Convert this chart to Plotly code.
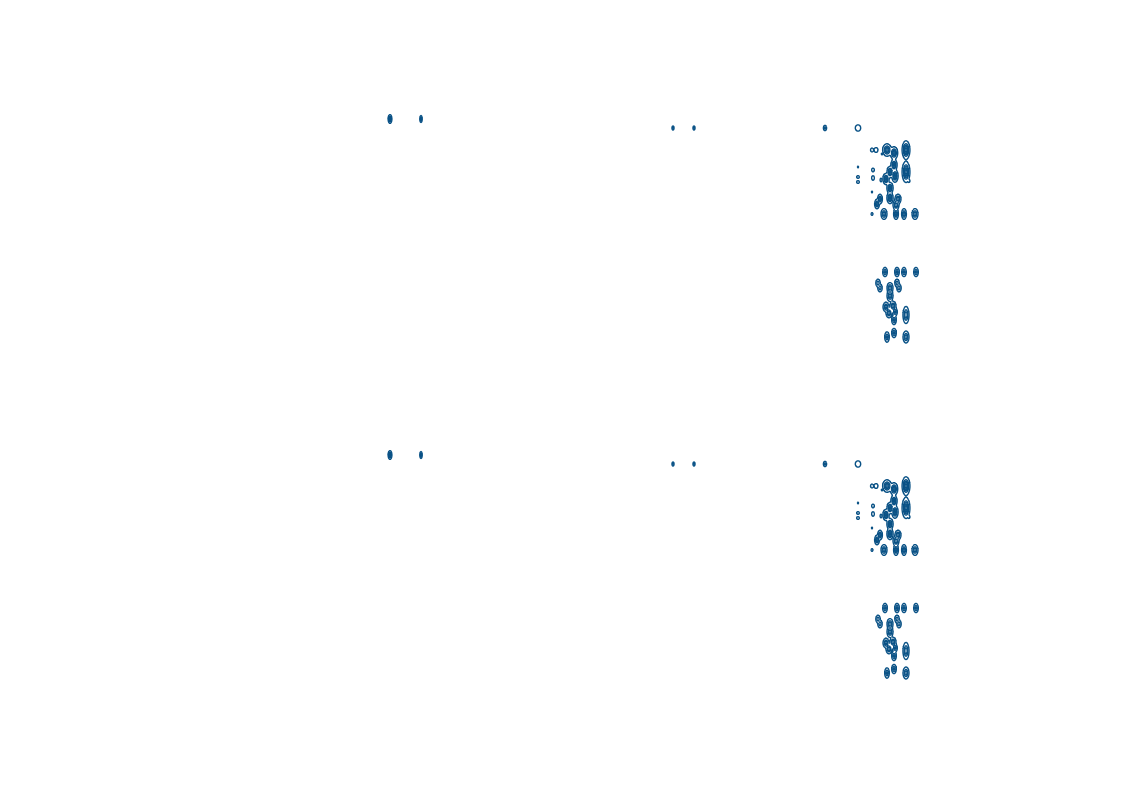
import numpy as np
import plotly.graph_objects as go

# Peak table of the 2D spectrum (arbitrary axis units)
peak_x = [390, 421, 673, 694, 825, 858,
          872, 876, 882, 887, 894, 906,
          858, 858, 858, 873, 873, 894, 890, 886, 895, 881, 906, 909,
          872, 877, 880, 890, 890, 898, 896,
          872, 884, 896, 904, 915,
          885, 897, 904, 916, 878, 880, 890, 890, 897, 899,
          886, 893, 889, 895, 894, 906, 887, 894, 906]
peak_y = [119, 119, 128, 128, 128, 128,
          150, 150, 154, 150, 153, 150,
          167, 177, 182, 170, 178, 165, 172, 179, 176, 180, 172, 181,
          192, 204, 199, 188, 198, 199, 205,
          214, 214, 214, 214, 214,
          272, 272, 272, 272, 283, 288, 288, 296, 283, 288,
          307, 306, 313, 312, 320, 315, 337, 333, 337]
# linewidths along each dimension
peak_lw_x = [3, 2, 2, 2, 3, 6,
             3, 4, 1.5, 7, 6, 6,
             1.2, 3, 3, 3, 3, 5, 5, 5, 5, 2, 6, 2,
             1.2, 4, 4, 5, 5, 5, 5,
             2, 5, 4, 4, 5,
             4, 4, 4, 4, 4, 4, 5, 5, 4, 4,
             5, 5, 5, 4, 4, 5, 4, 4, 5]
peak_lw_y = [7, 6, 4, 4, 5, 7,
             4, 5, 2, 10, 10, 14,
             2, 3, 3, 4, 5, 9, 9, 9, 10, 4, 16, 3,
             2, 8, 8, 9, 9, 8, 8,
             3, 9, 9, 9, 9,
             8, 8, 8, 8, 7, 7, 9, 9, 7, 7,
             8, 8, 8, 7, 8, 14, 9, 8, 10]
peak_amp = [1.5, 1.0, 0.6, 0.6, 0.7, 0.4,
            0.5, 0.5, 0.3, 1.5, 1.5, 2.0,
            0.3, 0.4, 0.4, 0.4, 0.4, 1.5, 1.5, 1.5, 1.5, 0.4, 2.0, 0.4,
            0.3, 1.2, 1.2, 1.5, 1.5, 1.2, 1.2,
            0.4, 1.2, 1.2, 1.2, 1.2,
            1.0, 1.0, 1.0, 1.0, 0.8, 0.8, 1.2, 1.2, 0.8, 0.8,
            1.2, 1.2, 1.2, 1.0, 1.0, 1.3, 1.0, 1.0, 1.2]

LINE_COLOR = "#0a5286"
BASE = 0.1
WIDEN = 1.15

px = np.array(peak_x, float)
py = np.array(peak_y, float)
sx = WIDEN * np.array(peak_lw_x, float) / 2 / np.sqrt(2 * np.log(1 / BASE))
sy = WIDEN * np.array(peak_lw_y, float) / 2 / np.sqrt(2 * np.log(1 / BASE))
amp = np.array(peak_amp, float)

# non-uniform grid: fine around peaks
xs = [np.array([300.0, 960.0])]
ys = [np.array([90.0, 360.0])]
for i in range(len(px)):
    xs.append(np.arange(px[i] - 4 * sx[i] - 1, px[i] + 4 * sx[i] + 1, 0.35))
    ys.append(np.arange(py[i] - 4 * sy[i] - 1, py[i] + 4 * sy[i] + 1, 0.35))
gx = np.unique(np.round(np.concatenate(xs), 2))
gy = np.unique(np.round(np.concatenate(ys), 2))
X, Y = np.meshgrid(gx, gy)
Z = np.zeros_like(X)
for i in range(len(px)):
    Z += amp[i] * np.exp(-((X - px[i]) ** 2) / (2 * sx[i] ** 2)
                         - ((Y - py[i]) ** 2) / (2 * sy[i] ** 2))
Z = np.round(Z, 3)

fig = go.Figure()
for k, (xa, ya) in enumerate([("x", "y"), ("x2", "y2")]):
    fig.add_trace(go.Contour(
        x=gx, y=gy, z=Z, xaxis=xa, yaxis=ya,
        contours=dict(coloring="lines", start=BASE, end=5, size=0.4),
        colorscale=[[0, LINE_COLOR], [1, LINE_COLOR]],
        line=dict(width=1.4), showscale=False, hoverinfo="skip"))

W, H = 1133, 791
top0, top1 = 50, 386
shift = 336
fig.update_layout(
    width=W, height=H, autosize=False,
    margin=dict(l=0, r=0, t=0, b=0),
    paper_bgcolor="white", plot_bgcolor="white", showlegend=False,
    xaxis=dict(domain=[0, 1], range=[0, W], visible=False, anchor="y"),
    yaxis=dict(domain=[1 - top1 / H, 1 - top0 / H], range=[top1, top0], visible=False, anchor="x"),
    xaxis2=dict(domain=[0, 1], range=[0, W], visible=False, anchor="y2"),
    yaxis2=dict(domain=[1 - (top1 + shift) / H, 1 - (top0 + shift) / H], range=[top1, top0],
                visible=False, anchor="x2"),
)
fig.write_html("out.html")
